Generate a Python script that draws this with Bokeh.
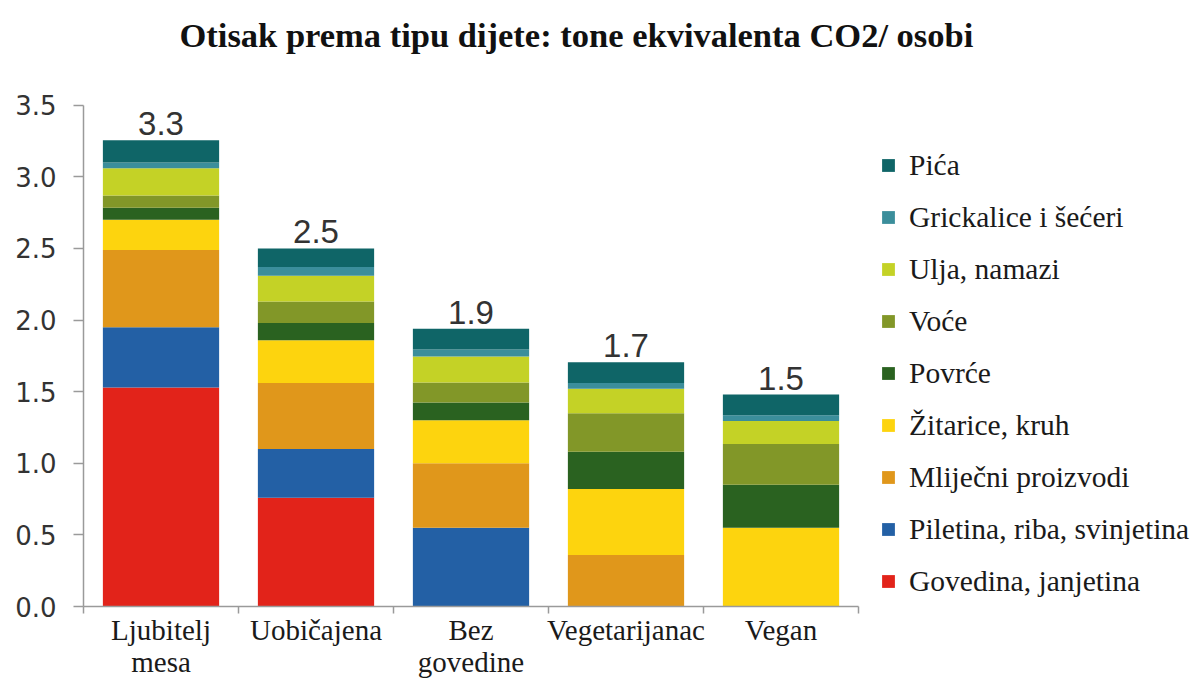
from bokeh.plotting import figure
from bokeh.models import (ColumnDataSource, Range1d, FixedTicker, Legend, LegendItem,
                          PrintfTickFormatter)
from bokeh.embed import file_html
from bokeh.resources import INLINE
from bokeh.core.properties import value

# ---------------- data ----------------
categories = ["Ljubitelj\nmesa", "Uobičajena", "Bez\ngovedine", "Vegetarijanac", "Vegan"]
series = ["Govedina, janjetina", "Piletina, riba, svinjetina", "Mliječni proizvodi",
          "Žitarice, kruh", "Povrće", "Voće", "Ulja, namazi", "Grickalice i šećeri", "Pića"]
govedina = [1.53, 0.76, 0.0, 0.0, 0.0]
piletina = [0.42, 0.34, 0.55, 0.0, 0.0]
mlijecni = [0.54, 0.46, 0.45, 0.36, 0.0]
zitarice = [0.21, 0.30, 0.30, 0.46, 0.55]
povrce = [0.085, 0.12, 0.125, 0.26, 0.30]
voce = [0.085, 0.15, 0.14, 0.27, 0.285]
ulja = [0.19, 0.18, 0.18, 0.17, 0.16]
grickalice = [0.04, 0.06, 0.05, 0.04, 0.04]
pica = [0.155, 0.13, 0.145, 0.145, 0.145]
total_labels = ["3.3", "2.5", "1.9", "1.7", "1.5"]
y_ticks = [0.0, 0.5, 1.0, 1.5, 2.0, 2.5, 3.0, 3.5]
colors = ["#E2231A", "#2360A5", "#E0971B", "#FDD40E", "#2A6220",
          "#829728", "#C4D226", "#3B8E9B", "#0F6567"]

values = [govedina, piletina, mlijecni, zitarice, povrce, voce, ulja, grickalice, pica]
keys = ["s%d" % i for i in range(len(series))]
xs = list(range(len(categories)))
data = {"x": xs}
for k, v in zip(keys, values):
    data[k] = v
source = ColumnDataSource(data)

totals = [sum(v[i] for v in values) for i in range(len(categories))]
lab_src = ColumnDataSource(dict(x=xs, y=totals, t=total_labels))

# ---------------- layout (pixels) ----------------
W, H = 1195, 680
LEFT, RIGHT, TOP, BOTTOM = 83, 5, 64, 73
PX_PER_CAT = 155.0      # horizontal pixels per category
PX_PER_UNIT = 144.0     # vertical pixels per tonne
frame_w = W - LEFT - RIGHT
frame_h = H - TOP - BOTTOM
x_end = -0.5 + frame_w / PX_PER_CAT
y_end = frame_h / PX_PER_UNIT

p = figure(width=W, height=H, x_range=Range1d(-0.5, x_end), y_range=Range1d(0, y_end),
           output_backend="svg", toolbar_location=None,
           min_border_left=LEFT, min_border_right=RIGHT, min_border_top=TOP,
           min_border_bottom=BOTTOM)
p.background_fill_color = "white"
p.border_fill_color = "white"
p.outline_line_color = None
p.xgrid.visible = False
p.ygrid.visible = False

p.title.text = "Otisak prema tipu dijete: tone ekvivalenta CO2/ osobi"
p.title.text_font = "Liberation Serif"
p.title.text_font_style = "bold"
p.title.text_font_size = "34.5px"
p.title.text_color = "#111111"
p.title.align = "left"
p.title.offset = 96
p.title.standoff = 26

renderers = p.vbar_stack(keys, x="x", width=0.75, color=colors, line_width=0, source=source)

p.text(x="x", y="y", text="t", source=lab_src, text_align="center",
       text_baseline="bottom", y_offset=-5, text_font=value("Liberation Sans"),
       text_font_size="33px", text_color="#333333")

# y axis
yax = p.yaxis[0]
yax.bounds = (y_ticks[0], y_ticks[-1])
yax.ticker = FixedTicker(ticks=y_ticks)
yax.formatter = PrintfTickFormatter(format="%.1f")
yax.axis_line_color = "#9a9a9a"
yax.axis_line_width = 1.5
yax.major_tick_line_color = "#9a9a9a"
yax.major_tick_line_width = 1.5
yax.major_tick_out = 10
yax.major_tick_in = 0
yax.minor_tick_out = 0
yax.minor_tick_in = 0
yax.major_label_text_font = "DejaVu Sans"
yax.major_label_text_font_size = "26px"
yax.major_label_text_color = "#333333"
yax.major_label_standoff = 17

# x axis: labels at category centres, small ticks at category boundaries
xax = p.xaxis[0]
bounds = [i - 0.5 for i in range(len(categories) + 1)]
xax.bounds = (bounds[0], bounds[-1])
xax.ticker = FixedTicker(ticks=xs, minor_ticks=bounds)
xax.major_label_overrides = {i: c for i, c in enumerate(categories)}
xax.major_label_text_font = "Liberation Serif"
xax.major_label_text_font_size = "29px"
xax.major_label_text_color = "#1a1a1a"
xax.major_label_text_line_height = 1.0
xax.major_label_standoff = 0
xax.axis_line_color = "#9a9a9a"
xax.axis_line_width = 1.5
xax.major_tick_out = 0
xax.major_tick_in = 0
xax.minor_tick_line_color = "#9a9a9a"
xax.minor_tick_line_width = 1.5
xax.minor_tick_out = 7
xax.minor_tick_in = 0

items = [LegendItem(label=series[i], renderers=[renderers[i]])
         for i in reversed(range(len(series)))]
legend = Legend(items=items, location=(797, 8), orientation="vertical",
                label_text_font="Liberation Serif", label_text_font_size="29.5px",
                label_text_color="#1a1a1a", glyph_width=16, glyph_height=16,
                label_height=34, spacing=18, padding=0, margin=0, label_standoff=13,
                border_line_color=None, background_fill_alpha=0)
p.add_layout(legend)

open("out.html", "w").write(file_html(p, INLINE))
